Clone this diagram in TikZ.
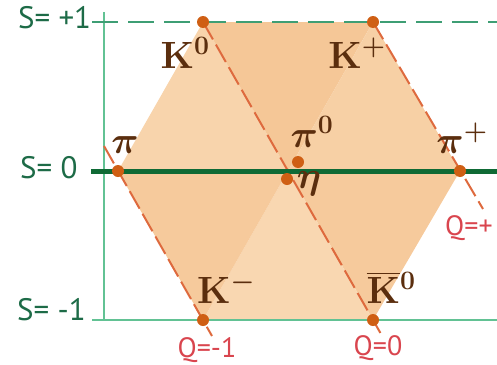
\RequirePackage{fix-cm}
\documentclass[tikz,border=0pt]{standalone}
\usepackage{amsmath}
\usepackage{fontspec}
\newfontfamily\labelsans{PT Sans}
\usetikzlibrary{positioning}

\definecolor{sdark}{HTML}{0F6A35}
\definecolor{slight}{HTML}{62C294}
\definecolor{sdash}{HTML}{3E9E74}
\definecolor{stext}{HTML}{1D6B47}
\definecolor{qline}{HTML}{DE6A3E}
\definecolor{qtext}{HTML}{D9454E}
\definecolor{dotc}{HTML}{CF5F14}
\definecolor{lblc}{HTML}{5B2E0E}
\definecolor{fillA}{HTML}{F8D4AC}
\definecolor{fillB}{HTML}{F5C797}
\definecolor{fillC}{HTML}{F7D0A5}
\definecolor{fillD}{HTML}{F6CA9C}
\definecolor{fillE}{HTML}{F9D7B1}

\begin{document}
\begin{tikzpicture}[x=1pt, y=-1pt,
	dot/.style={circle, fill=dotc, inner sep=0pt, minimum size=12pt},
	lbl/.style={text=lblc, anchor=base, inner sep=0pt, font=\fontsize{38}{40}\selectfont\boldmath},
	slbl/.style={text=stext, anchor=base west, inner sep=0pt, font=\labelsans\fontsize{31}{33}\selectfont},
	qlbl/.style={text=qtext, inner sep=0pt, font=\labelsans\fontsize{28}{30}\selectfont},
	qdash/.style={qline, line width=2pt, dash pattern=on 20pt off 6pt}]
	\useasboundingbox (0,0) rectangle (497,364);
	% the octet
	\coordinate (pim) at (118,171);
	\coordinate (K0) at (203,22);
	\coordinate (Kp) at (373,22);
	\coordinate (pip) at (460,171);
	\coordinate (Kb0) at (373,320);
	\coordinate (Km) at (203,320);
	\coordinate (O) at (288,171);
	\coordinate (pi0) at (298,162);
	\coordinate (eta) at (287,179);
	\fill[fillA] (O) -- (pim) -- (K0) -- cycle;
	\fill[fillB] (O) -- (K0) -- (Kp) -- cycle;
	\fill[fillC] (O) -- (Kp) -- (pip) -- cycle;
	\fill[fillD] (O) -- (pip) -- (Kb0) -- cycle;
	\fill[fillE] (O) -- (Kb0) -- (Km) -- cycle;
	\fill[fillD] (O) -- (Km) -- (pim) -- cycle;
	% strangeness axes
	\coordinate (stop0) at (92,22);
	\coordinate (stop1) at (497,22);
	\coordinate (smid0) at (91,171);
	\coordinate (smid1) at (497,171);
	\coordinate (sbot0) at (92,320);
	\coordinate (sbot1) at (497,320);
	\coordinate (vtop) at (104,12);
	\coordinate (vbot) at (104,320);
	\draw[slight, line width=2pt] (vtop) -- (vbot);
	\draw[slight, line width=2pt] (sbot0) -- (sbot1);
	\draw[sdash, line width=1.6pt, dash pattern=on 26pt off 10pt] (stop0) -- (stop1);
	% charge lines
	\coordinate (qm0) at (104,146);
	\coordinate (qm1) at (212,336);
	\coordinate (qz1) at (381,334);
	\coordinate (qp1) at (483,209);
	\draw[qdash] (qm0) -- (qm1);
	\draw[qdash] (K0) -- (qz1);
	\draw[qdash] (Kp) -- (qp1);
	\draw[sdark, line width=5pt] (smid0) -- (smid1);
	% particles
	\foreach \p in {pim,K0,Kp,pip,Kb0,Km,pi0,eta}
		\node[dot] (d\p) at (\p) {};
	\node[lbl] (lK0) at (185,68) {$\mathbf{K}^{0}$};
	\node[lbl] (lKp) at (357,68) {$\mathbf{K}^{+}$};
	\node[lbl] (lpim) at (125,153) {$\pi$};
	\node[lbl] (lpi0) at (312,147) {$\pi^{0}$};
	\node[lbl] (leta) at (309,188) {$\eta$};
	\node[lbl] (lpip) at (462,153) {$\pi^{+}$};
	\node[lbl] (lKm) at (226,303) {$\mathbf{K}^{-}$};
	\node[lbl] (lKb0) at (391,303) {$\overline{\mathbf{K}}{}^{0}$};
	\node[slbl] (sp) at (18,28) {S= +1};
	\node[slbl] (sz) at (20,178) {S= 0};
	\node[slbl] (sm) at (17,320) {S= -1};
	\node[qlbl] (qm) at (207,350) {Q=-1};
	\node[qlbl] (qz) at (378,348) {Q=0};
	\node[qlbl, anchor=west] (qp) at (445,228) {Q=+};
\end{tikzpicture}
\end{document}
